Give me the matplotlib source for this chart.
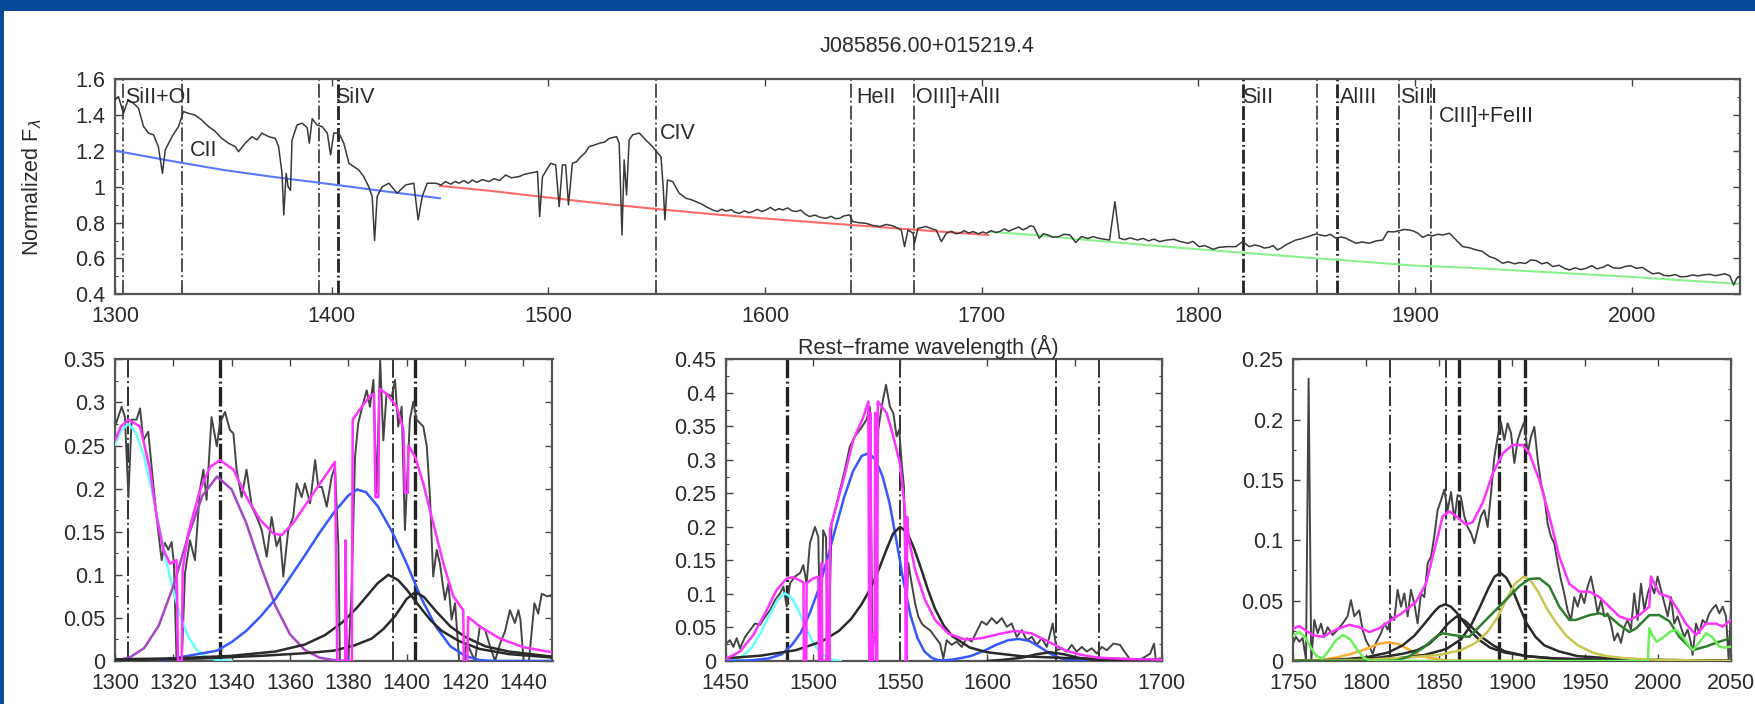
import numpy as np
import matplotlib
matplotlib.use("Agg")
import matplotlib.pyplot as plt
from matplotlib.patches import Rectangle
from matplotlib.ticker import AutoMinorLocator, MultipleLocator, FuncFormatter

plt.rcParams['font.family'] = ['Liberation Sans', 'DejaVu Sans']
plt.rcParams['lines.scale_dashes'] = False

# ---- full spectrum (normalized) ----
top_spec = [(1300,1.485),(1301.6,1.503),(1303.9,1.41),(1306,1.485),(1308.5,1.466),(1310.8,1.44),(1313.2,1.336),
    (1315.5,1.30),(1317.8,1.29),(1320,1.224),(1321.9,1.075),(1323.2,1.206),(1326.3,1.28),(1329.3,1.336),
    (1331.6,1.42),(1334,1.41),(1337,1.40),(1340,1.373),(1343.2,1.336),(1346.2,1.31),(1349.3,1.27),(1352.4,1.243),
    (1355.5,1.224),(1357,1.196),(1360.1,1.243),(1363.2,1.28),(1365.5,1.262),(1367.8,1.30),(1370.9,1.28),(1374,1.27),
    (1375.5,1.224),(1377.1,1.075),(1377.9,0.843),(1379,1.075),(1379.9,1.0),(1381,0.98),(1381.7,1.26),
    (1384,1.345),(1386.4,1.355),(1388.7,1.33),(1389.7,1.243),(1391,1.38),(1393.3,1.345),(1395.6,1.336),
    (1398,1.30),(1399.5,1.178),(1401,1.30),(1403.3,1.30),(1405.6,1.243),(1408,1.131),(1410.2,1.113),
    (1412.5,1.094),(1414.8,1.057),(1417.1,1.0),(1418.7,0.946),(1419.8,0.70),(1421,0.946),(1423.3,1.0),
    (1426.4,1.02),(1430.2,0.964),(1434.1,1.01),(1437.9,1.02),(1439.9,0.815),(1441.8,0.946),(1444.1,1.02),
    (1448,1.02),(1450.5,1.01),(1452.5,1.029),(1455,1.015),(1457,1.03),(1458.7,1.02),(1461,1.035),(1463,1.02),
    (1464.9,1.038),(1467,1.025),(1469.5,1.04),(1472.6,1.029),(1475,1.045),(1477.5,1.035),(1480.3,1.066),
    (1483,1.05),(1486.5,1.057),(1489,1.07),(1491.1,1.075),(1495,1.085),(1496,0.834),(1497.3,1.057),
    (1501.1,1.131),(1503.4,1.122),(1505,0.889),(1506.5,1.122),(1508,1.122),(1509.3,0.899),(1511.1,1.131),
    (1513,1.14),(1515,1.168),(1517,1.19),(1518.8,1.224),(1521,1.232),(1523.5,1.243),(1526,1.25),(1528.1,1.27),
    (1531.5,1.28),(1532.7,1.243),(1534,0.731),(1535,1.15),(1536.1,0.955),(1537.3,1.261),(1538.9,1.29),
    (1542,1.30),(1545,1.261),(1548.1,1.224),(1550,1.196),(1552,1.168),(1553,1.0),(1553.8,0.815),
    (1555,1.038),(1557.4,1.029),(1560.4,0.964),(1563.5,0.936),(1566,0.928),(1568.1,0.917),(1570.5,0.905),
    (1572.8,0.889),(1575.8,0.871),(1578,0.862),(1580,0.875),(1582,0.865),(1584.5,0.872),(1586,0.858),
    (1588.2,0.852),(1590.5,0.866),(1592.5,0.855),(1594.3,0.862),(1596.5,0.874),(1598.5,0.862),(1600.5,0.871),
    (1602.5,0.885),(1604.5,0.868),(1606.5,0.878),(1608.2,0.871),(1610.5,0.882),(1612.5,0.866),(1614.4,0.862),
    (1616.5,0.87),(1618.5,0.848),(1620.5,0.834),(1623,0.842),(1625.5,0.83),(1628.2,0.824),(1630.5,0.835),
    (1632.5,0.822),(1634.4,0.824),(1636.5,0.838),(1639,0.843),(1640.5,0.806),(1643,0.8),(1646.7,0.796),
    (1649.5,0.785),(1652.9,0.778),(1656,0.79),(1659,0.782),(1662.9,0.759),(1664.4,0.666),(1666,0.759),
    (1668.3,0.741),(1669,0.685),(1670.6,0.768),(1674.4,0.778),(1677,0.765),(1679,0.759),(1681.4,0.694),
    (1683.7,0.741),(1686,0.752),(1688,0.738),(1689.8,0.741),(1692,0.755),(1694,0.742),(1696,0.75),
    (1698.5,0.738),(1700.5,0.748),(1702.2,0.741),(1704.5,0.755),(1706.5,0.745),(1708.3,0.75),(1710.5,0.765),
    (1712.5,0.752),(1714.5,0.763),(1717,0.775),(1719,0.76),(1720.6,0.768),(1722.5,0.782),(1724,0.778),
    (1726.6,0.713),(1728.5,0.738),(1730.5,0.731),(1733,0.718),(1735.6,0.722),(1738,0.735),(1740.8,0.731),
    (1743.4,0.689),(1746,0.722),(1749,0.712),(1751.5,0.722),(1753.8,0.713),(1756.5,0.708),(1759,0.703),
    (1761.5,0.917),(1763.6,0.713),(1766,0.705),(1768.5,0.715),(1771.9,0.703),(1774.5,0.712),(1777,0.698),
    (1779.5,0.708),(1782.2,0.694),(1785,0.702),(1788.7,0.707),(1791.5,0.695),(1795.2,0.685),(1797.5,0.695),
    (1800.4,0.666),(1803,0.672),(1806.8,0.651),(1809.5,0.662),(1813.3,0.666),(1817.3,0.666),(1820.4,0.694),
    (1823.5,0.666),(1826,0.675),(1828.1,0.67),(1830.5,0.658),(1832.7,0.662),(1834.5,0.672),(1836.5,0.648),
    (1838.5,0.66),(1840.4,0.676),(1845,0.703),(1847.5,0.71),(1849.6,0.718),(1852,0.728),(1854.3,0.737),
    (1856.5,0.73),(1858.9,0.726),(1861,0.735),(1863.5,0.713),(1866,0.72),(1868.1,0.713),(1870.5,0.698),
    (1872.8,0.685),(1875.5,0.692),(1878.9,0.685),(1882,0.698),(1885.1,0.703),(1887.4,0.75),(1890,0.748),
    (1892.8,0.755),(1895,0.762),(1897.4,0.759),(1899.5,0.752),(1901.3,0.741),(1903.6,0.718),(1906,0.732),
    (1908.2,0.726),(1910.5,0.735),(1912.8,0.731),(1915.9,0.741),(1919,0.703),(1922,0.666),(1925,0.66),
    (1928.2,0.648),(1931,0.64),(1934.4,0.61),(1937,0.6),(1940.5,0.573),(1943,0.582),(1946,0.57),(1948.2,0.577),
    (1951,0.572),(1953.5,0.592),(1956,0.588),(1958.5,0.57),(1961,0.578),(1963.6,0.555),(1966.5,0.562),
    (1969,0.545),(1971.3,0.536),(1974,0.548),(1976.5,0.538),(1979,0.545),(1981.5,0.56),(1984,0.542),
    (1986.7,0.551),(1989,0.565),(1991.5,0.548),(1994.4,0.545),(1997,0.555),(1999.5,0.56),(2002.1,0.545),
    (2005,0.55),(2007.5,0.53),(2009.8,0.514),(2012.5,0.52),(2015,0.505),(2017.5,0.503),(2020,0.51),
    (2022.5,0.498),(2025.3,0.499),(2028,0.508),(2030.5,0.503),(2033,0.508),(2036,0.512),(2038.5,0.504),
    (2040.6,0.508),(2043,0.515),(2045.3,0.503),(2047.1,0.452),(2048.5,0.49),(2050,0.499)]

cont_blue = [(1300,1.202),(1325,1.146),(1350,1.094),(1375,1.052),(1400,1.014),(1425,0.974),(1450,0.936)]
cont_red = [(1450,1.005),(1475,0.975),(1500,0.94),(1525,0.906),(1550,0.876),(1575,0.848),(1600,0.823),
    (1625,0.80),(1650,0.778),(1675,0.755),(1703,0.731)]
cont_green = [(1703,0.75),(1725,0.73),(1750,0.702),(1775,0.676),(1800,0.651),(1825,0.628),(1850,0.605),
    (1875,0.583),(1900,0.56),(1925,0.548),(1950,0.531),(1975,0.514),(2000,0.497),(2025,0.477),(2050,0.458)]

top_lines = [1303.9, 1330.9, 1394.0, 1402.8, 1549.6, 1639.7, 1668.7, 1820.4, 1854.8, 1864.1, 1892.8, 1907.4]
top_labels = ["SiII+OI", "CII", "SiIV", "CIV", "HeII", "OIII]+AlII", "SiII", "AlIII", "SiIII", "CIII]+FeIII"]
top_label_lines = [1303.9, 1330.9, 1402.8, 1549.6, 1639.7, 1668.7, 1820.4, 1864.1, 1892.8, 1907.4]

# ---- SiIV region ----
siiv_spec = [(1300,0.272),(1302.3,0.295),(1303.4,0.283),(1304.6,0.19),(1305.7,0.28),(1307.4,0.28),(1308.6,0.293),
    (1309.7,0.256),(1311.4,0.266),(1313.1,0.206),(1314.9,0.148),(1316,0.117),(1317.1,0.137),(1318.3,0.129),
    (1319.4,0.138),(1320.2,0.113),(1321.1,0.001),(1322.9,0.0),(1324,0.102),(1325.7,0.14),(1327.4,0.117),
    (1329.1,0.198),(1330.3,0.222),(1331.4,0.187),(1333.1,0.283),(1334.9,0.249),(1336,0.276),(1337.7,0.289),
    (1339.4,0.268),(1340.6,0.264),(1341.7,0.222),(1343.4,0.19),(1345.1,0.222),(1346.9,0.179),(1348.6,0.167),
    (1350.3,0.152),(1352,0.121),(1353.7,0.167),(1355.4,0.133),(1356.6,0.144),(1357.7,0.098),(1359.4,0.152),
    (1361.1,0.167),(1362.3,0.206),(1364,0.19),(1365.1,0.206),(1366.9,0.183),(1368.6,0.233),(1369.7,0.202),
    (1370.9,0.202),(1372.6,0.179),(1374.3,0.214),(1375.4,0.225),(1376.6,0.133),(1377.1,0.0),(1380,0.0),
    (1381.1,0.082),(1382.3,0.237),(1383.4,0.276),(1385.1,0.299),(1386.3,0.314),(1387.4,0.295),(1388.6,0.326),
    (1389.7,0.195),(1390.9,0.35),(1392,0.256),(1393.1,0.31),(1394.9,0.307),(1396,0.326),(1397.1,0.272),
    (1398.3,0.295),(1399.4,0.152),(1401.1,0.28),(1402.3,0.301),(1403.4,0.28),(1405.7,0.272),(1406.9,0.249),
    (1408,0.19),(1409.1,0.098),(1410.3,0.129),(1411.4,0.113),(1413.1,0.071),(1414.3,0.09),(1415.4,0.048),
    (1416.6,0.067),(1418,0.0),(1419.4,0.0),(1420.6,0.02),(1421.7,0.013),(1423.4,0.0),(1425.1,0.04),
    (1426.9,0.036),(1428.6,0.017),(1430.3,0.0),(1432,0.02),(1433.7,0.034),(1435.4,0.059),(1437.1,0.044),
    (1438.3,0.059),(1439,0.048),(1440.1,0.0),(1441.9,0.0),(1443.8,0.067),(1445.1,0.055),(1446.3,0.078),
    (1448.2,0.075),(1450,0.077)]
siiv_cyan = [(1300,0.251),(1302,0.267),(1304.5,0.275),(1307,0.266),(1310,0.237),(1313,0.192),(1316,0.142),
    (1319,0.095),(1322,0.056),(1325,0.029),(1328,0.013),(1331,0.005),(1335,0.001),(1340,0.0)]
siiv_purple = [(1300,0.0),(1305,0.004),(1310,0.015),(1315,0.041),(1320,0.087),(1325,0.144),(1330,0.192),
    (1335,0.214),(1340,0.199),(1345,0.160),(1350,0.110),(1355,0.064),(1360,0.031),(1365,0.013),(1370,0.004),
    (1375,0.001),(1380,0.0)]
siiv_blue = [(1315,0.001),(1320,0.003),(1325,0.006),(1330,0.009),(1335,0.012),(1340,0.022),(1345,0.035),
    (1350,0.052),(1355,0.072),(1360,0.097),(1365,0.122),(1370,0.148),(1375,0.172),(1380,0.192),(1383,0.199),
    (1386,0.196),(1390,0.18),(1395,0.15),(1400,0.113),(1405,0.073),(1410,0.04),(1415,0.017),(1420,0.006),
    (1425,0.001),(1430,0.0),(1450,0.0)]
siiv_black1 = [(1300,0.002),(1320,0.003),(1340,0.006),(1355,0.011),(1365,0.019),(1372,0.03),(1378,0.045),
    (1383,0.062),(1387,0.078),(1390,0.09),(1393.7,0.1),(1397,0.094),(1400,0.083),(1404,0.065),(1408,0.048),
    (1412,0.035),(1418,0.023),(1425,0.014),(1435,0.008),(1450,0.004)]
siiv_black2 = [(1300,0.001),(1330,0.003),(1350,0.006),(1365,0.009),(1375,0.012),(1382,0.018),(1388,0.026),
    (1392,0.037),(1396,0.052),(1400,0.072),(1403,0.08),(1406,0.074),(1410,0.058),(1415,0.04),(1420,0.028),
    (1427,0.017),(1435,0.011),(1450,0.005)]
siiv_total = [(1300,0.256),(1302,0.272),(1304.6,0.28),(1308.6,0.272),(1312,0.222),(1314.3,0.167),(1316.6,0.129),
    (1318.9,0.113),(1321.1,0.117),(1321.6,0.0),(1322.9,0.0),(1323.2,0.106),(1325.1,0.148),(1329.1,0.198),
    (1332.6,0.225),(1336,0.233),(1340.6,0.222),(1345.1,0.19),(1349.7,0.164),(1354.3,0.148),(1357.1,0.146),
    (1361.1,0.16),(1365.7,0.183),(1370.3,0.206),(1375.4,0.231),(1376.2,0.0),(1378.9,0.0),(1379.0,0.14),
    (1379.5,0.0),(1381.2,0.0),(1381.5,0.28),(1384.6,0.295),(1387.4,0.307),(1388.8,0.31),(1389.3,0.19),
    (1390.3,0.19),(1390.6,0.316),(1393.1,0.31),(1396.6,0.295),(1398.9,0.268),(1399.4,0.195),(1400.4,0.195),
    (1400.6,0.25),(1402.9,0.237),(1405.7,0.206),(1409.1,0.16),(1412.6,0.113),(1416,0.075),(1419.4,0.059),
    (1419.6,0.0),(1420.8,0.0),(1421.1,0.051),(1425.1,0.04),(1432,0.026),(1440,0.016),(1450,0.01)]
siiv_lines = [1304.3, 1336.0, 1395.2, 1402.9]

# ---- CIV region ----
civ_spec = [(1450.2,0.026),(1452.5,0.031),(1454.4,0.021),(1456.3,0.034),(1458.2,0.019),(1461.1,0.036),
    (1464,0.046),(1466.8,0.056),(1469.7,0.054),(1472.6,0.066),(1475.5,0.076),(1478.3,0.091),(1481.2,0.101),
    (1483.1,0.111),(1485,0.081),(1486.9,0.116),(1489.7,0.126),(1492.6,0.131),(1494.5,0.143),(1496.4,0.116),
    (1498.3,0.176),(1501.2,0.2),(1503.1,0.185),(1504.4,0.001),(1505.9,0.195),(1507.5,0.185),(1508.8,0.0),
    (1510.7,0.205),(1512.6,0.223),(1515.5,0.255),(1518.3,0.285),(1521.2,0.32),(1524.1,0.335),(1527,0.345),
    (1530.8,0.36),(1532.7,0.379),(1534.2,0.016),(1535.6,0.046),(1537.5,0.345),(1539.4,0.379),(1541.9,0.412),
    (1544.2,0.379),(1546.1,0.37),(1548,0.335),(1549.5,0.345),(1550.9,0.295),(1552.2,0.26),(1553.4,0.061),
    (1554.7,0.146),(1556.6,0.116),(1558.6,0.086),(1560.5,0.066),(1562.4,0.056),(1564.3,0.051),(1567.2,0.046),
    (1570,0.036),(1572.9,0.026),(1574.8,0.004),(1576.7,0.031),(1579.6,0.024),(1582.4,0.029),(1585.3,0.021),
    (1588.2,0.034),(1591,0.029),(1593.9,0.044),(1596.8,0.059),(1599.6,0.054),(1602.5,0.064),(1605.4,0.056),
    (1608.3,0.064),(1611.2,0.051),(1614,0.056),(1616.9,0.036),(1619.8,0.046),(1622.6,0.031),(1625.5,0.036),
    (1628.4,0.024),(1631.2,0.034),(1634.1,0.021),(1637.5,0.056),(1639.8,0.016),(1642.7,0.019),(1645.6,0.014),
    (1648.4,0.024),(1651.3,0.014),(1654.2,0.021),(1657,0.014),(1659.9,0.019),(1662.8,0.011),(1665.6,0.021),
    (1668.5,0.016),(1672.3,0.026),(1676.1,0.024),(1678.1,0.016),(1682.5,0.0),(1689,0.004),(1693.4,0.011),
    (1695.6,0.026),(1696.7,0.0),(1698.9,0.004)]
civ_cyan = [(1455,0.001),(1460,0.008),(1465,0.02),(1470,0.042),(1475,0.068),(1480,0.092),(1484,0.101),
    (1488,0.094),(1492,0.074),(1496,0.05),(1500,0.028),(1504,0.013),(1508,0.005),(1512,0.001),(1516,0.0)]
civ_blue = [(1450,0.0),(1465,0.001),(1475,0.004),(1482,0.01),(1488,0.024),(1493,0.042),(1498,0.07),(1503,0.105),
    (1508,0.15),(1513,0.198),(1518,0.245),(1523,0.283),(1528,0.306),(1532,0.31),(1536,0.3),(1540,0.275),
    (1544,0.235),(1548,0.178),(1552,0.118),(1556,0.068),(1560,0.034),(1564,0.014),(1568,0.005),(1572,0.001),
    (1580,0.0)]
civ_blue2 = [(1570,0.0),(1580,0.002),(1590,0.007),(1598,0.015),(1605,0.024),(1612,0.031),(1618,0.033),
    (1624,0.03),(1630,0.021),(1636,0.011),(1642,0.004),(1650,0.001),(1660,0.0),(1700,0.0)]
civ_black1 = [(1450,0.004),(1470,0.008),(1490,0.016),(1505,0.029),(1515,0.045),(1522,0.063),(1528,0.085),
    (1533,0.108),(1538,0.138),(1542,0.165),(1546,0.19),(1550,0.2),(1554,0.192),(1558,0.168),(1562,0.138),
    (1566,0.106),(1570,0.078),(1575,0.053),(1580,0.037),(1590,0.02),(1600,0.013),(1620,0.007),(1650,0.004),
    (1700,0.002)]
civ_black2 = [(1600,0.0),(1610,0.002),(1620,0.005),(1628,0.01),(1636,0.013),(1644,0.01),(1652,0.005),
    (1660,0.002),(1670,0.001),(1700,0.0)]
civ_total = [(1450.6,0.004),(1458.2,0.014),(1465.9,0.039),(1473.5,0.076),(1479.2,0.106),(1485,0.123),
    (1488.8,0.125),(1492.6,0.12),(1494.6,0.117),(1494.8,0.0),(1496.2,0.0),(1496.4,0.116),(1500.2,0.123),
    (1503.1,0.126),(1503.5,0.0),(1504.8,0.0),(1505.0,0.146),(1505.4,0.0),(1507.8,0.0),(1508.0,0.15),
    (1508.4,0.0),(1509.6,0.0),(1509.8,0.195),(1511.7,0.215),(1517.5,0.27),(1523.2,0.33),(1528.9,0.364),
    (1531.8,0.387),(1532.3,0.0),(1532.9,0.0),(1533.1,0.37),(1533.5,0.0),(1534.3,0.0),(1534.5,0.04),
    (1535.5,0.04),(1535.7,0.37),(1536.1,0.0),(1536.9,0.0),(1537.2,0.387),(1542.3,0.37),(1546.1,0.335),
    (1549.9,0.295),(1552.8,0.225),(1553.2,0.0),(1553.8,0.0),(1554.0,0.215),(1554.8,0.185),(1558.6,0.136),
    (1564.3,0.091),(1570.1,0.061),(1577.7,0.041),(1587.2,0.032),(1596.8,0.034),(1606.3,0.04),(1615.9,0.045),
    (1625.5,0.041),(1635,0.029),(1644.6,0.016),(1654.1,0.009),(1663.7,0.005),(1680,0.003),(1700,0.002)]
civ_lines = [1485.3, 1549.9, 1639.2, 1664.0]

# ---- CIII] region ----
ciii_spec = [(1750,0.015),(1751.8,0.02),(1754.1,0.016),(1756.4,0.019),(1758.7,0.001),(1760.5,0.234),
    (1762.3,0.0),(1764.4,0.034),(1766.7,0.023),(1769,0.031),(1771.2,0.02),(1773.5,0.028),(1777,0.0215),
    (1780.4,0.026),(1783.8,0.031),(1787.2,0.037),(1789.5,0.0505),(1791.8,0.037),(1795.2,0.042),(1797.5,0.026),
    (1799.8,0.017),(1802.1,0.012),(1804.4,0.006),(1806.7,0.015),(1810.1,0.023),(1812.4,0.031),(1814.7,0.026),
    (1816.9,0.037),(1819.2,0.034),(1821.5,0.059),(1823.8,0.045),(1826.1,0.056),(1828.4,0.037),(1830.6,0.059),
    (1832.9,0.048),(1835.2,0.031),(1837.5,0.056),(1839.8,0.053),(1842.1,0.081),(1844.4,0.0865),(1846.6,0.103),
    (1848.9,0.125),(1851.2,0.133),(1853.5,0.142),(1855.8,0.125),(1858.1,0.14),(1860.4,0.117),(1862.6,0.1375),
    (1864.9,0.136),(1867.2,0.12),(1869.5,0.111),(1871.8,0.106),(1874.1,0.0975),(1876.3,0.1085),(1878.6,0.12),
    (1880.9,0.125),(1883.2,0.111),(1885.5,0.139),(1887.8,0.169),(1890.1,0.186),(1892.3,0.198),(1894.6,0.183),
    (1896.9,0.197),(1899.2,0.189),(1901.5,0.164),(1903.8,0.183),(1906,0.191),(1908.3,0.198),(1910.6,0.172),
    (1912.9,0.186),(1915.2,0.194),(1917.5,0.167),(1919.8,0.147),(1922.1,0.136),(1924.3,0.114),(1926.6,0.103),
    (1928.9,0.0975),(1931.2,0.081),(1933.5,0.067),(1935.7,0.056),(1938,0.042),(1940.3,0.034),(1942.6,0.053),
    (1944.9,0.045),(1947.2,0.056),(1949.5,0.048),(1951.7,0.0615),(1954,0.07),(1956.3,0.056),(1958.6,0.0395),
    (1960.9,0.0505),(1963.2,0.037),(1965.4,0.0395),(1967.7,0.031),(1970,0.017),(1972.3,0.023),(1974.6,0.015),
    (1976.8,0.028),(1979.1,0.034),(1981.4,0.026),(1983.7,0.056),(1986,0.034),(1988.3,0.064),(1990.6,0.042),
    (1992.9,0.056),(1995.1,0.064),(1997.4,0.056),(1999.7,0.07),(2002,0.059),(2004.3,0.048),(2006.6,0.037),
    (2008.9,0.053),(2011.1,0.031),(2013.4,0.037),(2015.7,0.028),(2018,0.02),(2020.3,0.026),(2022.5,0.015),
    (2023.7,0.005),(2026,0.031),(2028.3,0.023),(2030.5,0.034),(2032.8,0.031),(2035.1,0.0395),(2037.4,0.0435),
    (2039.7,0.0465),(2042,0.0395),(2044.3,0.045),(2046.6,0.037),(2048.4,0.001),(2050,0.045)]
ciii_lime = [(1750,0.021),(1754,0.024),(1758,0.02),(1762,0.011),(1766,0.004),(1770,0.002),(1774,0.008),
    (1779,0.017),(1784,0.0215),(1789,0.018),(1794,0.009),(1798,0.003),(1803,0.0),(1993,0.0),(1994,0.027),
    (1996,0.022),(1999,0.016),(2003,0.019),(2008,0.024),(2012,0.026),(2017,0.02),(2021,0.013),(2024,0.009),
    (2028,0.015),(2033,0.023),(2037,0.02),(2042,0.012),(2046,0.011),(2050,0.012)]
ciii_orange = [(1750,0.0),(1770,0.001),(1780,0.003),(1790,0.006),(1800,0.01),(1808,0.014),(1815,0.0155),
    (1822,0.014),(1830,0.009),(1838,0.004),(1846,0.002),(1855,0.0005),(1870,0.0),(2050,0.0)]
ciii_black1 = [(1750,0.0),(1780,0.001),(1800,0.003),(1815,0.007),(1825,0.013),(1833,0.021),(1840,0.031),
    (1846,0.04),(1850,0.045),(1854,0.047),(1858,0.045),(1862,0.04),(1867,0.032),(1872,0.024),(1878,0.017),
    (1885,0.011),(1895,0.007),(1910,0.004),(1930,0.002),(1960,0.001),(2050,0.0)]
ciii_black2 = [(1750,0.0),(1790,0.001),(1810,0.003),(1825,0.006),(1835,0.009),(1843,0.014),(1850,0.022),
    (1856,0.031),(1862,0.037),(1868,0.033),(1874,0.026),(1880,0.019),(1887,0.013),(1895,0.008),(1910,0.004),
    (1930,0.002),(1960,0.001),(2050,0.0)]
ciii_black3 = [(1750,0.0),(1820,0.002),(1840,0.005),(1855,0.01),(1865,0.018),(1872,0.03),(1878,0.045),
    (1884,0.061),(1888,0.07),(1892,0.073),(1896,0.069),(1900,0.06),(1905,0.045),(1910,0.031),(1916,0.02),
    (1922,0.013),(1932,0.008),(1945,0.004),(1970,0.002),(2000,0.001),(2050,0.0)]
ciii_yellow = [(1750,0.0),(1800,0.001),(1830,0.003),(1850,0.005),(1865,0.009),(1875,0.015),(1883,0.024),
    (1890,0.036),(1896,0.051),(1902,0.064),(1908,0.07),(1913,0.066),(1918,0.057),(1924,0.043),(1930,0.032),
    (1937,0.021),(1945,0.013),(1955,0.007),(1965,0.004),(1980,0.002),(2000,0.001),(2050,0.0)]
ciii_feiii = [(1750,0.0),(1820,0.0),(1829.5,0.004),(1838.6,0.0105),(1847.8,0.02),(1852.4,0.023),(1859.2,0.0215),
    (1870.6,0.02),(1882,0.034),(1893.5,0.048),(1904.9,0.062),(1911.8,0.068),(1918.6,0.0685),(1925.5,0.062),
    (1932.3,0.045),(1939.2,0.034),(1943.7,0.034),(1952.9,0.038),(1959.7,0.0395),(1966.6,0.037),(1973.4,0.03),
    (1980.3,0.024),(1984.9,0.027),(1994,0.038),(2000.9,0.038),(2007.7,0.033),(2014.6,0.02),(2023.7,0.009),
    (2032.8,0.012),(2042,0.016),(2050,0.019)]
ciii_total = [(1750,0.027),(1754.1,0.029),(1763.3,0.0215),(1770.1,0.02),(1779.2,0.026),(1788.4,0.03),
    (1795.2,0.028),(1802.1,0.024),(1808.9,0.027),(1815.8,0.033),(1824.9,0.04),(1834.1,0.049),(1840.9,0.064),
    (1847.8,0.0975),(1852.4,0.12),(1856.9,0.124),(1861.5,0.12),(1868.3,0.113),(1872.9,0.115),(1879.8,0.131),
    (1886.6,0.155),(1893.5,0.172),(1900.3,0.179),(1907.2,0.179),(1911.8,0.172),(1918.6,0.15),(1925.5,0.12),
    (1932.3,0.0865),(1939.2,0.064),(1946,0.0575),(1952.9,0.0575),(1959.7,0.053),(1966.6,0.045),(1973.4,0.037),
    (1980.3,0.034),(1987.1,0.038),(1994,0.045),(1995.1,0.07),(2000.9,0.056),(2007.7,0.053),(2012.3,0.045),
    (2019.1,0.031),(2026,0.0215),(2032.8,0.031),(2039.7,0.031),(2044.3,0.0285),(2050,0.034)]
ciii_lines = [1816.5, 1854.6, 1863.3, 1891.2, 1908.6]

TXT = '#2b2b2b'
FS = 15.5
DASHDOT = (0, (10, 2.2, 1.3, 2.2))
DASHDOT_LONG = (0, (14, 2.5, 1.4, 2.5))


def xy(pairs):
    a = np.array(pairs, dtype=float)
    return a[:, 0], a[:, 1]


def style_axes(ax, xmajor, ymajor):
    ax.xaxis.set_major_locator(MultipleLocator(xmajor))
    ax.yaxis.set_major_locator(MultipleLocator(ymajor))
    ax.yaxis.set_minor_locator(AutoMinorLocator(2))
    ax.yaxis.set_major_formatter(FuncFormatter(lambda v, p: '%g' % round(v, 3)))
    ax.tick_params(which='both', direction='in', top=True, right=True, colors='#444444',
                   labelcolor=TXT, labelsize=FS)
    ax.tick_params(which='major', length=5, width=1.0)
    ax.tick_params(which='minor', length=2.5, width=0.8)
    ax.tick_params(axis='x', pad=8.5)
    ax.tick_params(axis='y', pad=7)
    for s in ax.spines.values():
        s.set_linewidth(1.6)
        s.set_color('#555555')


fig = plt.figure(figsize=(17.56, 7.04), dpi=100)
W, H = 1756.0, 704.0

# slide frame
fig.patches.append(Rectangle((0, 1 - 11 / H), 1, 11 / H, transform=fig.transFigure,
                             facecolor='#074a98', edgecolor='none', zorder=10))
fig.patches.append(Rectangle((0, 0), 4 / W, 1, transform=fig.transFigure,
                             facecolor='#074a98', edgecolor='none', zorder=10))

# ---- top panel ----
ax = fig.add_axes([115 / W, 1 - 294.3 / H, 1625 / W, 215 / H])
for w in top_lines:
    lw = 2.0 if w in (1402.8, 1820.4, 1864.1) else 1.1
    ax.axvline(w, color='#222222', lw=lw, ls=DASHDOT, zorder=1)
x, y = xy(top_spec)
ax.plot(x, y, color='#3a3a3a', lw=1.1, zorder=3)
x, y = xy(cont_blue)
ax.plot(x, y, color='#5a78ff', lw=1.5, zorder=2)
x, y = xy(cont_red)
ax.plot(x, y, color='#ff6a6a', lw=1.5, zorder=2)
x, y = xy(cont_green)
ax.plot(x, y, color='#8cf08c', lw=1.5, zorder=2)

label_dx = [0.8, 3.8, -1.2, 2.0, 2.3, 1.0, 0.0, 1.2, 0.2, 3.8]
label_y = [1.5, 1.2, 1.5, 1.3, 1.5, 1.5, 1.5, 1.5, 1.5, 1.39]
for t, w, dx, ly in zip(top_labels, top_label_lines, label_dx, label_y):
    ax.text(w + dx, ly, t, fontsize=FS, color=TXT, ha='left', va='center', zorder=4)

ax.set_xlim(1300, 2050)
ax.set_ylim(0.4, 1.6)
style_axes(ax, 100, 0.2)
ax.set_title('J085856.00+015219.4', fontsize=FS, color=TXT, pad=20)
fig.text(32 / W, 1 - 187 / H, 'Normalized F$_\\lambda$', rotation=90, ha='center', va='center',
         fontsize=FS, color=TXT)
fig.text(928 / W, 1 - 346.7 / H, 'Rest\u2212frame wavelength (\u00c5)', ha='center', va='center',
         fontsize=FS, color=TXT)


def panel(rect, xlim, ylim, xmajor, lines, bold, spec, comps, total):
    a = fig.add_axes(rect)
    for w in lines:
        a.axvline(w, color='#222222', lw=2.4 if w in bold else 1.3, ls=DASHDOT_LONG, zorder=1)
    x, y = xy(spec)
    a.plot(x, y, color='#454545', lw=1.4, zorder=2)
    for pairs, col in comps:
        x, y = xy(pairs)
        a.plot(x, y, color=col, lw=1.8, zorder=3)
    x, y = xy(total)
    a.plot(x, y, color='#ff33ff', lw=1.8, zorder=4)
    a.set_xlim(*xlim)
    a.set_ylim(*ylim)
    style_axes(a, xmajor, 0.05)
    return a


panel([115 / W, 1 - 661 / H, 437.5 / W, 301.7 / H], (1300, 1450), (0, 0.35), 20,
      siiv_lines, (1336.0, 1402.9), siiv_spec,
      [(siiv_cyan, '#66ffff'), (siiv_purple, '#a448c8'), (siiv_blue, '#3658ff'),
       (siiv_black1, '#2a2a2a'), (siiv_black2, '#2a2a2a')], siiv_total)

panel([725.7 / W, 1 - 661 / H, 436 / W, 301.7 / H], (1450, 1700), (0, 0.45), 50,
      civ_lines, (1485.3,), civ_spec,
      [(civ_cyan, '#66ffff'), (civ_blue, '#3658ff'), (civ_blue2, '#3658ff'),
       (civ_black1, '#2a2a2a'), (civ_black2, '#2a2a2a')], civ_total)

panel([1293.3 / W, 1 - 661 / H, 437.7 / W, 301.7 / H], (1750, 2050), (0, 0.25), 50,
      ciii_lines, (1863.3, 1891.2, 1908.6), ciii_spec,
      [(ciii_orange, '#ffaa33'), (ciii_black1, '#2a2a2a'), (ciii_black2, '#2a2a2a'),
       (ciii_black3, '#2a2a2a'), (ciii_yellow, '#c9c650'), (ciii_feiii, '#2f7d2f'),
       (ciii_lime, '#6cf05a')], ciii_total)

fig.savefig('out.png', dpi=100)
